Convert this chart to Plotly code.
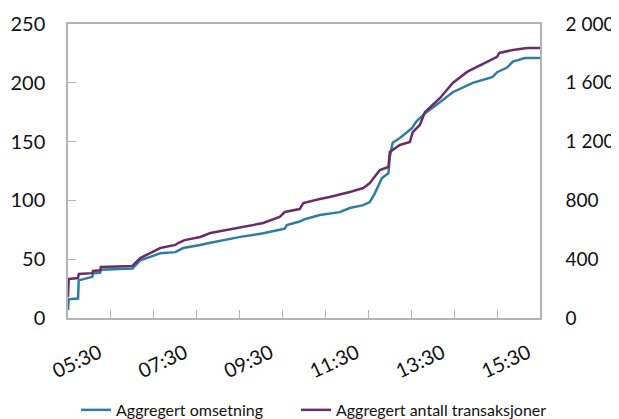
import plotly.graph_objects as go

# Aggregert omsetning (left axis)
blue_times = ["05:30", "05:31", "05:44", "05:45", "06:04", "06:05", "06:15", "06:16",
              "07:00", "07:11", "07:25", "07:39", "08:00", "08:11", "08:35", "08:49",
              "09:31", "10:03", "10:26", "10:33", "10:36", "10:54", "11:01", "11:22",
              "11:50", "12:04", "12:23", "12:32", "12:39", "12:49", "12:58", "13:00",
              "13:04", "13:14", "13:24", "13:31", "13:37", "13:49", "14:10", "14:28",
              "14:56", "15:24", "15:30", "15:44", "15:52", "16:09", "16:30"]
blue_values = [6.8, 16, 16.5, 32, 35, 38, 38.5, 41,
               42, 49, 52, 55, 56, 59.5, 62, 64,
               69, 72, 75, 76, 79, 82, 84, 87.5,
               90, 93.5, 96, 98.6, 106, 119, 123, 137,
               149, 153, 158, 161.5, 167, 174, 183.5, 192,
               200, 205, 209, 213, 218, 221, 221]

# Aggregert antall transaksjoner (right axis)
purple_times = ["05:30", "05:31", "05:44", "05:45", "06:04", "06:05", "06:15", "06:16",
                "07:00", "07:11", "07:25", "07:39", "08:00", "08:04", "08:13", "08:35",
                "08:49", "09:31", "10:03", "10:26", "10:33", "10:54", "10:59", "11:22",
                "11:36", "12:04", "12:23", "12:32", "12:46", "12:58", "13:00", "13:14",
                "13:28", "13:32", "13:42", "13:49", "14:10", "14:28", "14:48", "15:16",
                "15:30", "15:33", "15:52", "16:12", "16:30"]
purple_values = [143, 265, 272, 299, 305, 320, 325, 347,
                 354, 408, 442, 476, 497, 510, 530, 551,
                 578, 619, 646, 687, 721, 741, 782, 810,
                 823, 857, 884, 918, 1007, 1027, 1129, 1177,
                 1197, 1265, 1313, 1400, 1495, 1599, 1674, 1742,
                 1776, 1803, 1823, 1837, 1837]

series_names = ["Aggregert omsetning", "Aggregert antall transaksjoner"]
DAY = "2000-01-01 "

fig = go.Figure()
fig.add_trace(go.Scatter(x=[DAY + t for t in blue_times], y=blue_values, mode="lines",
                         name=series_names[0], legend="legend", showlegend=True,
                         line=dict(color="#2D7EA2", width=2.5)))
fig.add_trace(go.Scatter(x=[DAY + t for t in purple_times], y=purple_values, mode="lines",
                         name=series_names[1], yaxis="y2", legend="legend2", showlegend=True,
                         line=dict(color="#6B2D68", width=2.5)))

axis_gray = "#b4b4b4"
legend_common = dict(orientation="h", xref="paper", y=0.022, yref="container",
                     xanchor="left", yanchor="middle", visible=True,
                     font=dict(size=16, color="#111111"), bgcolor="rgba(0,0,0,0)")
fig.update_layout(
    width=611, height=411,
    margin=dict(l=60, r=79, t=16, b=101),
    paper_bgcolor="white", plot_bgcolor="white",
    showlegend=True,
    separators=", ",
    font=dict(family="Lato", size=20, color="#111111"),
    xaxis=dict(type="date", range=[DAY + "05:30", DAY + "16:30"],
               tick0=DAY + "05:30", dtick=7200000, tickformat="%H:%M",
               tickangle=-25, ticks="inside", ticklen=8, tickcolor=axis_gray,
               minor=dict(dtick=3600000, tick0=DAY + "05:30", ticks="inside",
                          ticklen=8, tickcolor=axis_gray),
               showline=True, linecolor=axis_gray, linewidth=1.5, mirror=True,
               showgrid=False, zeroline=False, automargin=False,
               ticklabelshift=31, ticklabelstandoff=14),
    yaxis=dict(range=[0, 250], dtick=50, ticks="inside", ticklen=8, tickcolor=axis_gray,
               showline=True, linecolor=axis_gray, linewidth=1.5, mirror=True,
               showgrid=False, zeroline=False, automargin=False, ticklabelstandoff=17),
    yaxis2=dict(range=[0, 2000], dtick=400, overlaying="y", side="right",
                tickformat=",", showline=True, linecolor=axis_gray, linewidth=1.5,
                ticks="", showgrid=False, zeroline=False, automargin=False,
                ticklabelstandoff=20, tickfont=dict(size=19)),
    legend=dict(x=0.017, **legend_common),
    legend2=dict(x=0.483, **legend_common),
)

fig.write_html("out.html")
